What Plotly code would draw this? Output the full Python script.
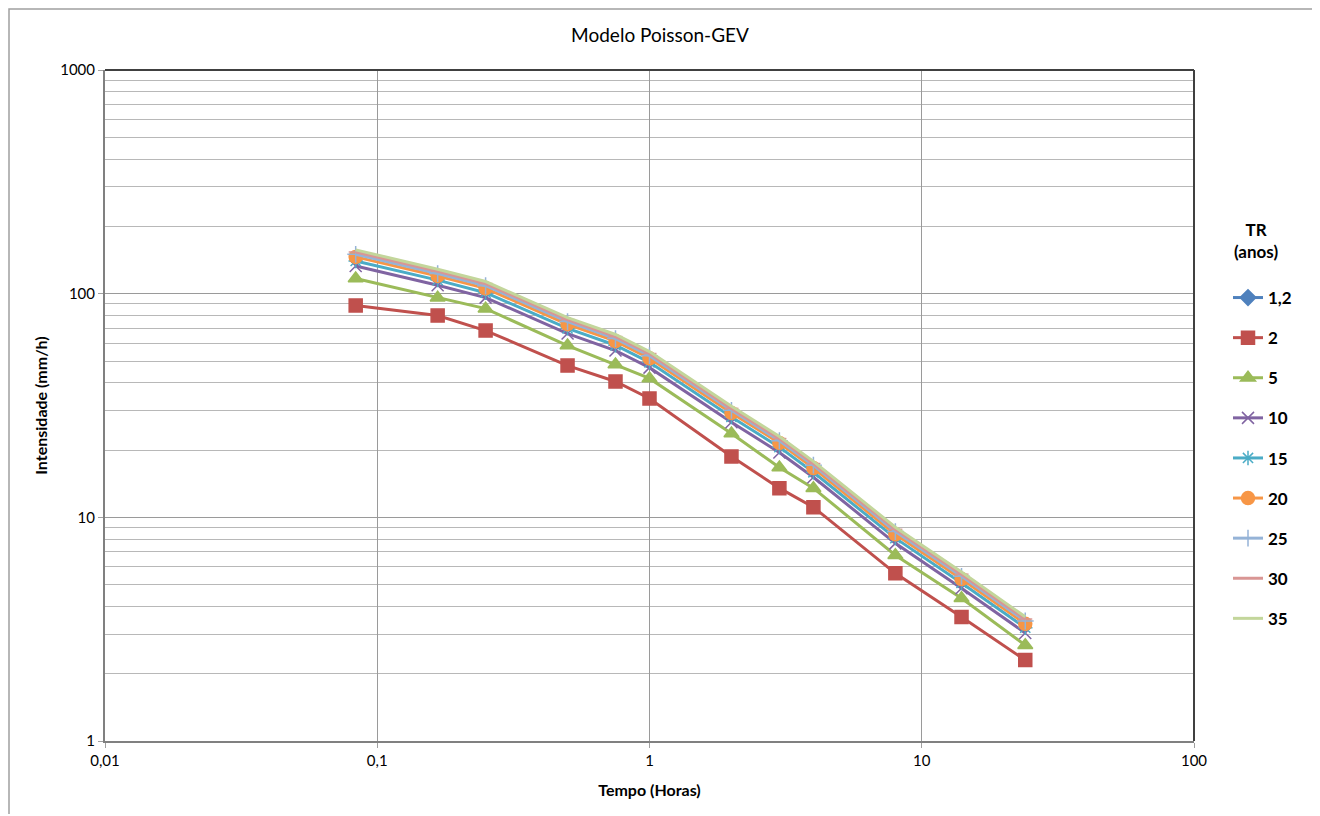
import plotly.graph_objects as go

# Durations (hours)
tempo = [5/60, 10/60, 15/60, 30/60, 45/60, 1, 2, 3, 4, 8, 14, 24]

series_names = ["1,2", "2", "5", "10", "15", "20", "25", "30", "35"]

tr_1_2 = [None, None, None, None, None, None, None, None, None, None, None, None]
tr_2 = [88.5, 79.8, 68.4, 47.7, 40.5, 34.0, 18.7, 13.5, 11.1, 5.62, 3.58, 2.30]
tr_5 = [117, 96, 85.7, 58.6, 48.2, 41.8, 23.7, 16.7, 13.5, 6.77, 4.35, 2.68]
tr_10 = [133, 109, 96, 66.3, 55.7, 46.7, 26.6, 19.5, 15.1, 7.65, 4.82, 3.04]
tr_15 = [140, 115, 101, 70.0, 58.8, 49.3, 28.1, 20.6, 15.9, 8.07, 5.09, 3.21]
tr_20 = [146, 120, 105.6, 73.0, 61.3, 51.4, 29.3, 21.5, 16.6, 8.40, 5.30, 3.34]
tr_25 = [150, 123, 108.5, 75.0, 63.0, 52.8, 30.1, 22.0, 17.1, 8.64, 5.45, 3.44]
tr_30 = [153.6, 126, 111, 76.6, 64.3, 54.0, 30.7, 22.5, 17.4, 8.84, 5.57, 3.51]
tr_35 = [157, 128.6, 113.3, 78.2, 65.7, 55.1, 31.4, 23.0, 17.8, 9.03, 5.69, 3.59]

values = [tr_1_2, tr_2, tr_5, tr_10, tr_15, tr_20, tr_25, tr_30, tr_35]

colors = ["#4F81BD", "#C0504D", "#9BBB59", "#8064A2", "#4BACC6",
          "#F79646", "#95B3D7", "#D99694", "#C3D69B"]
symbols = ["diamond", "square", "triangle-up", "x-thin-open", "asterisk-open",
           "circle", "cross-thin-open", "line-ew-open", "circle"]
msizes = [12, 13, 13, 12, 12, 13, 12, 10, 0]

x_ticks = [0.01, 0.1, 1, 10, 100]
x_ticktext = ["0,01", "0,1", "1", "10", "100"]
y_ticks = [1, 10, 100, 1000]
y_ticktext = ["1", "10", "100", "1000"]

fig = go.Figure()
for name, vals, col, sym, ms in zip(series_names, values, colors, symbols, msizes):
    fig.add_trace(go.Scatter(
        x=tempo, y=vals, name=name, mode="lines+markers" if ms > 0 else "lines",
        line=dict(color=col, width=3),
        marker=dict(symbol=sym, size=ms, color=col, line=dict(color=col, width=1.5)),
        legendgroup=name,
    ))

minor_y = [m * 10 ** k for k in range(0, 3) for m in range(2, 10)]

# page offset caused by the default body margin (8px)
OFF = 8
W, H = 1320 - OFF, 816 - OFF - 2
PX0, PX1, PY0, PY1 = 105, 1194, 70, 741  # plot area in page pixels


def px(x):
    return (x - PX0) / (PX1 - PX0)


def py(y):
    return (PY1 - y) / (PY1 - PY0)


fig.update_layout(
    width=W, height=H,
    paper_bgcolor="white", plot_bgcolor="white",
    margin=dict(l=PX0 - OFF, r=W - (PX1 - OFF), t=PY0 - OFF, b=H - (PY1 - OFF)),
    font=dict(family="Lato, 'Open Sans', sans-serif", color="#000000", size=14),
    title=dict(text="Modelo Poisson-GEV", x=px(660), xanchor="center",
               y=1 - (35 - OFF) / H, yanchor="middle", xref="paper",
               font=dict(size=19, family="Lato, sans-serif")),
    xaxis=dict(
        type="log", range=[-2, 2], tickvals=x_ticks, ticktext=x_ticktext,
        showgrid=True, gridcolor="#9a9a9a", gridwidth=1,
        showline=True, linecolor="#808080", linewidth=2,
        ticks="outside", ticklen=5, tickcolor="#a0a0a0",
        tickfont=dict(size=15),
        title=dict(text="<b>Tempo (Horas)</b>", font=dict(size=16), standoff=17),
        zeroline=False,
    ),
    yaxis=dict(
        type="log", range=[0, 3], tickvals=y_ticks, ticktext=y_ticktext,
        showgrid=True, gridcolor="#9a9a9a", gridwidth=1,
        showline=True, linecolor="#808080", linewidth=2,
        ticks="outside", ticklen=5, tickcolor="#a0a0a0",
        tickfont=dict(size=15),
        minor=dict(tickmode="array", tickvals=minor_y, showgrid=True,
                   gridcolor="#b8b8b8", gridwidth=1, ticks=""),
        title=dict(text="<b>Intensidade (mm/h)</b>", font=dict(size=16), standoff=9),
        zeroline=False,
    ),
    legend=dict(
        x=px(1228), xanchor="left", y=py(280), yanchor="top",
        font=dict(size=17, weight="bold"), tracegroupgap=15, itemwidth=30,
        bgcolor="rgba(0,0,0,0)",
    ),
    showlegend=True,
)

fig.add_annotation(text="<b>TR<br>(anos)</b>", xref="paper", yref="paper",
                   x=px(1256), y=py(240), xanchor="center", yanchor="middle",
                   showarrow=False, font=dict(size=17), align="center")

# Plot frame: top and right darker
fig.add_shape(type="line", xref="paper", yref="paper", x0=0, x1=1, y0=1, y1=1,
              line=dict(color="#404040", width=2))
fig.add_shape(type="line", xref="paper", yref="paper", x0=1, x1=1, y0=0, y1=1,
              line=dict(color="#404040", width=2))
# Outer chart border
fig.add_shape(type="rect", xref="paper", yref="paper",
              x0=px(9), x1=px(1313), y0=py(830), y1=py(9),
              line=dict(color="#a0a0a0", width=1.5))

fig.write_html("out.html")
